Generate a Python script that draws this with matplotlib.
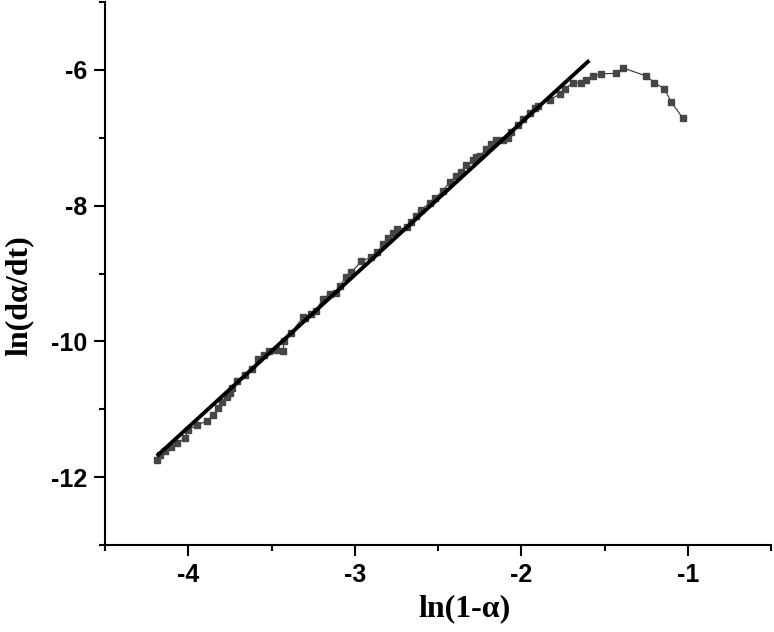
import numpy as np
import matplotlib
matplotlib.use('Agg')
import matplotlib.pyplot as plt

# data: ln(1-alpha) vs ln(dalpha/dt)
ln_x = [-4.19, -4.17, -4.14, -4.105, -4.07, -4.02, -4.00, -3.945, -3.885, -3.85,
        -3.82, -3.80, -3.77, -3.75, -3.735, -3.71, -3.66, -3.615, -3.58, -3.545,
        -3.515, -3.47, -3.43, -3.425, -3.38, -3.31, -3.30, -3.265, -3.235, -3.19,
        -3.15, -3.11, -3.09, -3.05, -3.02, -2.96, -2.90, -2.865, -2.83, -2.80,
        -2.77, -2.745, -2.685, -2.665, -2.63, -2.60, -2.55, -2.52, -2.47, -2.43,
        -2.39, -2.36, -2.33, -2.29, -2.27, -2.25, -2.21, -2.18, -2.15, -2.11,
        -2.08, -2.06, -2.02, -1.99, -1.95, -1.92, -1.90, -1.83, -1.77, -1.74,
        -1.69, -1.64, -1.61, -1.57, -1.52, -1.43, -1.39, -1.25, -1.20, -1.14,
        -1.10, -1.03]
ln_y = [-11.75, -11.67, -11.62, -11.55, -11.50, -11.43, -11.30, -11.23, -11.17, -11.09,
        -10.98, -10.89, -10.82, -10.76, -10.69, -10.59, -10.50, -10.41, -10.26, -10.20,
        -10.14, -10.12, -10.14, -10.00, -9.87, -9.64, -9.66, -9.60, -9.55, -9.37,
        -9.30, -9.28, -9.18, -9.05, -8.98, -8.82, -8.76, -8.69, -8.56, -8.48,
        -8.40, -8.35, -8.32, -8.24, -8.15, -8.06, -7.96, -7.89, -7.78, -7.65,
        -7.57, -7.50, -7.40, -7.33, -7.29, -7.27, -7.17, -7.09, -7.04, -7.03,
        -7.01, -6.91, -6.81, -6.72, -6.63, -6.56, -6.53, -6.44, -6.36, -6.28,
        -6.19, -6.19, -6.15, -6.09, -6.06, -6.05, -5.97, -6.09, -6.19, -6.28,
        -6.47, -6.71]

# fitted straight line (end points)
fit_x = [-4.18, -1.60]
fit_y = [-11.67, -5.88]

xticks = [-4, -3, -2, -1]
yticks = [-12, -10, -8, -6]

fig = plt.figure(figsize=(7.74, 6.32), dpi=100)
ax = fig.add_axes([105/774, 87/632, 666/774, 543/632])

ax.plot(ln_x, ln_y, '-', color='#303030', lw=0.8, marker='s', ms=5,
        mfc='#464646', mec='#464646')
ax.plot(fit_x, fit_y, '-', color='black', lw=2.8)

ax.set_xlim(-4.5, -0.5)
ax.set_ylim(-13, -5)
ax.spines['top'].set_visible(False)
ax.spines['right'].set_visible(False)
for s in ['left', 'bottom']:
    ax.spines[s].set_linewidth(1.5)

ax.set_xticks(xticks)
ax.set_xticks([-4.5, -3.5, -2.5, -1.5, -0.5], minor=True)
ax.set_yticks(yticks)
ax.set_yticks([-13, -11, -9, -7, -5], minor=True)
ax.set_xticklabels([str(v) for v in xticks])
ax.set_yticklabels([str(v) for v in yticks])
ax.tick_params(which='major', direction='out', length=8, width=1.5, pad=5)
ax.tick_params(which='minor', direction='out', length=4, width=1.5)
for lab in ax.get_xticklabels() + ax.get_yticklabels():
    lab.set_fontfamily('Liberation Sans')
    lab.set_fontweight('bold')
    lab.set_fontsize(18)

fig.text(465/774, 1 - 609/632, 'ln(1-α)', ha='center', va='center',
         fontfamily='Liberation Serif', fontweight='bold', fontsize=23)
fig.text(19/774, 1 - 296/632, 'ln(dα/dt)', ha='center', va='center', rotation=90,
         fontfamily='Liberation Serif', fontweight='bold', fontsize=23)

fig.savefig('out.png', dpi=100)
